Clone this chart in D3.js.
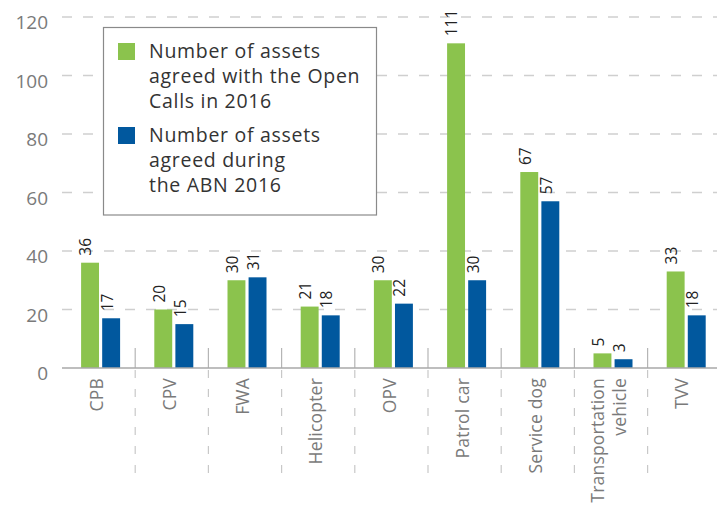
<!DOCTYPE html>
<html>
<head>
<meta charset="utf-8">
<script src="https://cdn.jsdelivr.net/npm/d3@7"></script>
<style>
  body { margin: 0; background: #fff; }
  svg { display: block; font-family: "Open Sans", "Noto Sans", sans-serif; }
</style>
</head>
<body>
<svg id="chart" width="717" height="509"></svg>
<script>
// data
const categories = ["CPB", "CPV", "FWA", "Helicopter", "OPV", "Patrol car", "Service dog", "Transportation vehicle", "TVV"];
const openCalls = [36, 20, 30, 21, 30, 111, 67, 5, 33];
const abn = [17, 15, 31, 18, 22, 30, 57, 3, 18];
const yTicks = [0, 20, 40, 60, 80, 100, 120];
const seriesNames = ["Number of assets agreed with the Open Calls in 2016", "Number of assets agreed during the ABN 2016"];
const legendLines = [
  ["Number of assets", "agreed with the Open", "Calls in 2016"],
  ["Number of assets", "agreed during", "the ABN 2016"]
];
const colors = ["#8bc34d", "#01589e"];

const svg = d3.select("#chart");

const x = d3.scaleBand().domain(categories).range([62, 62 + 9 * 73.2]).padding(0);
const y = d3.scaleLinear().domain([0, 120]).range([368, 17]);
const x1 = d3.scaleBand().domain([0, 1])
  .range([x.bandwidth() / 2 - 17.5, x.bandwidth() / 2 + 21.5]).paddingInner(0.15);

// gridlines
svg.append("g").selectAll("line").data(yTicks.filter(d => d > 0)).join("line")
  .attr("x1", 62).attr("x2", 717)
  .attr("y1", d => y(d)).attr("y2", d => y(d))
  .attr("stroke", "#cfcfcf").attr("stroke-width", 1.3)
  .attr("stroke-dasharray", "10,11");

// tick labels
svg.append("g").selectAll("text").data(yTicks).join("text")
  .attr("x", 48).attr("y", d => y(d) + 12)
  .attr("text-anchor", "end")
  .attr("fill", "#7a7a7a").style("font-size", "19px")
  .text(d => d);

// separators between categories
const bounds = categories.slice(1).map(c => x(c));
const sep = svg.append("g");
sep.selectAll(".solid").data(bounds).join("line").attr("class", "solid")
  .attr("x1", d => d).attr("x2", d => d).attr("y1", 348).attr("y2", 368)
  .attr("stroke", "#b5b5b5").attr("stroke-width", 1.2);
sep.selectAll(".dash").data(bounds).join("line").attr("class", "dash")
  .attr("x1", d => d).attr("x2", d => d).attr("y1", 370).attr("y2", 478)
  .attr("stroke", "#c8c8c8").attr("stroke-width", 1.2)
  .attr("stroke-dasharray", "8,11");

// bars
const rows = categories.map((c, i) => ({ cat: c, vals: [openCalls[i], abn[i]] }));
const groups = svg.append("g").selectAll("g").data(rows).join("g")
  .attr("transform", d => `translate(${x(d.cat)},0)`);

groups.selectAll("rect").data(d => d.vals.map((v, s) => ({ v, s }))).join("rect")
  .attr("x", d => x1(d.s)).attr("width", x1.bandwidth())
  .attr("y", d => y(d.v)).attr("height", d => y(0) - y(d.v))
  .attr("fill", d => colors[d.s]);

groups.selectAll("text").data(d => d.vals.map((v, s) => ({ v, s }))).join("text")
  .attr("transform", d => `translate(${x1(d.s) + x1.bandwidth() / 2 - 4},${y(d.v) - 7}) rotate(-90)`)
  .attr("dy", "0.35em")
  .attr("fill", "#222").style("font-size", "15.5px")
  .text(d => d.v);

// axis line
svg.append("line").attr("x1", 62).attr("x2", 717).attr("y1", y(0)).attr("y2", y(0))
  .attr("stroke", "#a8a8a8").attr("stroke-width", 1.5);

// category labels
const catLabels = svg.append("g").selectAll("text").data(categories).join("text")
  .attr("transform", d => `translate(${x(d) + x.bandwidth() / 2 - 2},378) rotate(-90)`)
  .attr("text-anchor", "end")
  .attr("fill", "#7a7a7a").style("font-size", "17.5px").style("letter-spacing", "0.2px");

catLabels.each(function(d) {
  const words = d === "Transportation vehicle" ? ["Transportation", "vehicle"] : [d];
  const t = d3.select(this);
  words.forEach((w, i) => {
    t.append("tspan").attr("x", 0)
      .attr("y", words.length > 1 ? (i === 0 ? -11 : 11) : 0)
      .attr("dy", "0.35em").text(w);
  });
});

// legend
const lg = svg.append("g");
lg.append("rect").attr("x", 103.5).attr("y", 27.5).attr("width", 273).attr("height", 187.5)
  .attr("fill", "#fff").attr("stroke", "#8a8a8a").attr("stroke-width", 1.2);
seriesNames.forEach((name, s) => {
  const top = 43 + s * 84;
  lg.append("rect").attr("x", 118).attr("y", top).attr("width", 17).attr("height", 17)
    .attr("fill", colors[s]);
  const t = lg.append("text").attr("fill", "#333")
    .style("font-size", "19.5px").style("letter-spacing", "0.7px");
  legendLines[s].forEach((l, i) => {
    t.append("tspan").attr("x", 149).attr("y", top + 15 + i * 25).text(l);
  });
});
</script>
</body>
</html>
